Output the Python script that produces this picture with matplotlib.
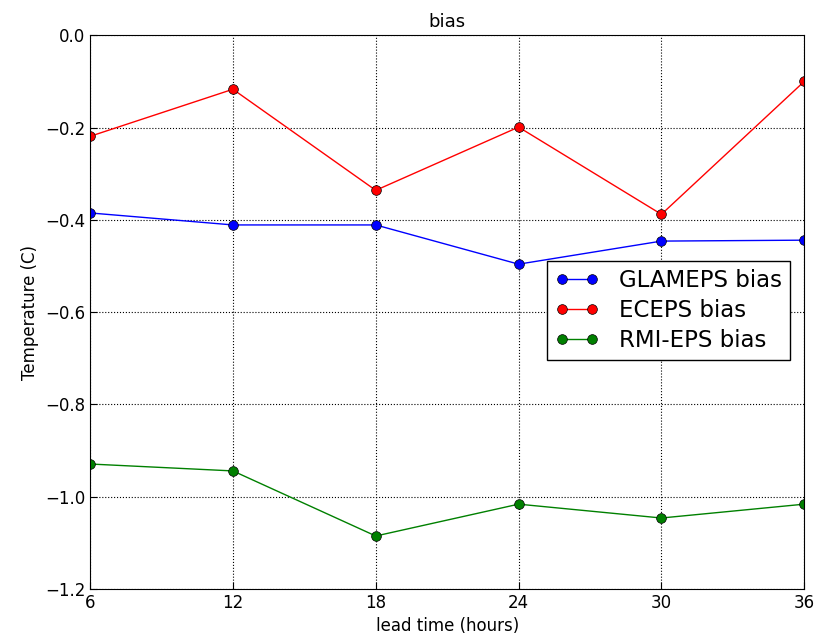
import matplotlib
matplotlib.use("Agg")
import matplotlib.pyplot as plt

lead_time = [6, 12, 18, 24, 30, 36]
glameps_bias = [-0.385, -0.411, -0.411, -0.496, -0.446, -0.444]
eceps_bias = [-0.219, -0.117, -0.336, -0.199, -0.388, -0.100]
rmieps_bias = [-0.929, -0.944, -1.085, -1.016, -1.046, -1.016]

fig = plt.figure(figsize=(8.19, 6.41), dpi=100)
ax = fig.add_axes([0.11, 0.081, 0.872, 0.864])

for vals, col, lab in [(glameps_bias, "b", "GLAMEPS bias"),
                       (eceps_bias, "r", "ECEPS bias"),
                       (rmieps_bias, "g", "RMI-EPS bias")]:
    ax.plot(lead_time, vals, color=col, marker="o", markersize=7,
            markeredgecolor="k", markeredgewidth=0.5, linewidth=1, label=lab)

ax.set_xlim(6, 36)
ax.set_ylim(-1.2, 0.0)
ax.set_xticks(lead_time)
ax.set_yticks([-1.2, -1.0, -0.8, -0.6, -0.4, -0.2, 0.0])
ax.tick_params(labelsize=12, direction="in", length=5)
ax.grid(True, color="k", linestyle=":", linewidth=0.8)
ax.set_xlabel("lead time (hours)", fontsize=12)
ax.set_ylabel("Temperature (C)", fontsize=12)
ax.set_title("bias", fontsize=13)

leg = ax.legend(loc="upper left", bbox_to_anchor=(0.640, 0.592), fontsize=16.5,
                numpoints=2, fancybox=False, framealpha=1, borderpad=0.35,
                handlelength=1.9, handletextpad=0.9, labelspacing=0.3,
                borderaxespad=0)
leg.get_frame().set_edgecolor("k")

fig.savefig("out.png", dpi=100)
